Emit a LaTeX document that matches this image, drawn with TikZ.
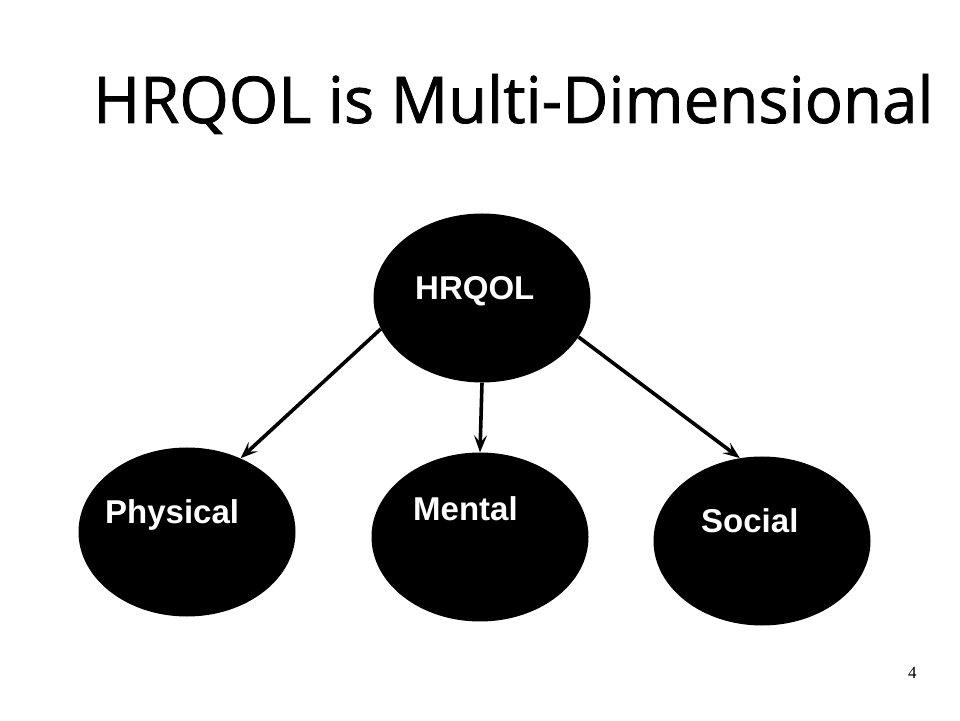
\documentclass[tikz,border=0pt]{standalone}
\usepackage{fontspec}
\setmainfont{Liberation Sans}
\newfontfamily\titlefont[FakeBold=1.2]{Open Sans}
\newfontfamily\numfont{Liberation Serif}
\usetikzlibrary{shapes.geometric,arrows.meta}
\tikzset{
  blob/.style={ellipse, fill=black, draw=none, inner sep=0pt, minimum width=217pt, minimum height=169pt},
  blobtext/.style={anchor=base west, inner sep=0pt, text=white, font=\fontsize{33}{36}\selectfont\bfseries},
  link/.style={line width=3.6pt, -{Stealth[length=17pt,width=13pt,inset=7pt]}}
}
\begin{document}
\begin{tikzpicture}[x=1pt,y=1pt]
\useasboundingbox (0,0) rectangle (960,720);
\fill[white] (0,0) rectangle (960,720);
\node[anchor=base west, inner sep=0pt] (title) at (93,597)
  {\resizebox{840pt}{49pt}{\titlefont HRQOL is Multi-Dimensional}};
\node[blob] (h) at (482,422) {};
\node[blob] (p) at (187,188) {};
\node[blob] (m) at (480,183) {};
\node[blob] (s) at (762,179) {};
\node[blobtext] (ht) at (415,420) {HRQOL};
\node[blobtext] (pt) at (105,196) {Physical};
\node[blobtext] (mt) at (413,199) {Mental};
\node[blobtext] (st) at (701,187) {Social};
\draw[link] (h.197) -- (p.54);
\draw[link] (h.270) -- (m.90);
\draw[link] (h.338) -- (s.105);
\node[anchor=base west, inner sep=0pt, font=\numfont\fontsize{17}{19}\selectfont] (num) at (908,42) {4};
\end{tikzpicture}
\end{document}
